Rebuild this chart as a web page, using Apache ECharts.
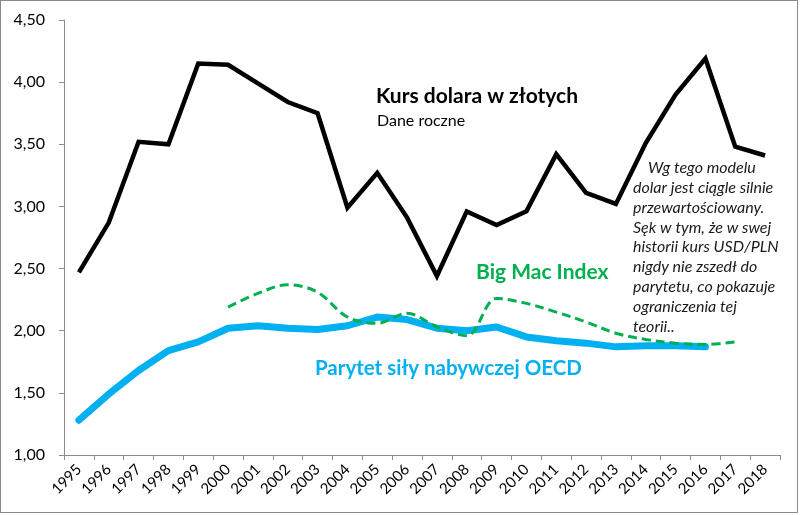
<!DOCTYPE html>
<html>
<head>
<meta charset="utf-8">
<script src="https://cdn.jsdelivr.net/npm/echarts@6/dist/echarts.min.js"></script>
<style>
html,body{margin:0;padding:0;background:#fff;}
#c{width:798px;height:513px;box-sizing:border-box;border:1px solid #8a8a8a;}
</style>
</head>
<body>
<div id="c"></div>
<script>
const years = ['1995','1996','1997','1998','1999','2000','2001','2002','2003','2004','2005','2006','2007','2008','2009','2010','2011','2012','2013','2014','2015','2016','2017','2018'];
const kursDolara = [2.47,2.87,3.52,3.50,4.15,4.14,3.99,3.84,3.75,2.99,3.27,2.91,2.44,2.96,2.85,2.96,3.42,3.11,3.02,3.51,3.90,4.19,3.48,3.41];
const parytetOECD = [1.28,1.49,1.68,1.84,1.91,2.02,2.04,2.02,2.01,2.04,2.11,2.09,2.02,2.00,2.03,1.95,1.92,1.90,1.87,1.88,1.88,1.87,null,null];
const bigMacIndex = [null,null,null,null,null,2.19,2.30,2.37,2.31,2.11,2.06,2.14,2.03,1.96,2.26,2.22,2.15,2.07,1.98,1.93,1.90,1.89,1.91,null];
const titleText = 'Kurs dolara w złotych';
const subtitleText = 'Dane roczne';
const bigMacLabel = 'Big Mac Index';
const oecdLabel = 'Parytet siły nabywczej OECD';
const noteLines = ['Wg tego modelu','dolar jest ciągle silnie','przewartościowany.','Sęk w tym, że w swej','historii kurs USD/PLN','nigdy nie zszedł do','parytetu, co pokazuje','ograniczenia tej','teorii..'];

const FONT = 'Lato, "Open Sans", sans-serif';
const chart = echarts.init(document.getElementById('c'), null, {renderer:'canvas'});

const graphics = [
  {type:'text', left:375, top:85, style:{text:titleText, font:'bold 21px '+FONT, fill:'#000'}},
  {type:'text', left:376, top:112, style:{text:subtitleText, font:'16px '+FONT, fill:'#000'}},
  {type:'text', left:475, top:261, style:{text:bigMacLabel, font:'bold 21px '+FONT, fill:'#00B050'}},
  {type:'text', left:314, top:357, style:{text:oecdLabel, font:'bold 20.5px '+FONT, fill:'#00B0F0'}}
];
noteLines.forEach((t,i)=>{
  graphics.push({type:'text', left: i===0 ? 647 : 632, top: 159 + i*19.8,
    style:{text:t, font:'italic 16px '+FONT, fill:'#1a1a1a'}});
});

chart.setOption({
  animation:false,
  grid:{left:63, right:17, top:19, bottom:57, containLabel:false},
  xAxis:{
    type:'category', data:years, boundaryGap:true,
    axisLine:{lineStyle:{color:'#8c8c8c', width:1}},
    axisTick:{show:true, alignWithLabel:false, length:5, lineStyle:{color:'#8c8c8c'}},
    axisLabel:{rotate:45, interval:0, color:'#000', fontSize:15, fontFamily:FONT, margin:12}
  },
  yAxis:{
    type:'value', min:1, max:4.5, interval:0.5,
    axisLine:{show:true, lineStyle:{color:'#8c8c8c', width:1}},
    axisTick:{show:true, length:5, lineStyle:{color:'#8c8c8c'}},
    splitLine:{show:false},
    axisLabel:{color:'#000', fontSize:16, fontFamily:FONT, margin:19,
      formatter:v=>v.toFixed(2).replace('.',',')}
  },
  series:[
    {name:'Kurs', type:'line', data:kursDolara, symbol:'none',
     lineStyle:{color:'#000', width:4.5, join:'miter'}, z:3},
    {name:'OECD', type:'line', data:parytetOECD, symbol:'none',
     lineStyle:{color:'#00B0F0', width:7, cap:'round', join:'round'}, z:2},
    {name:'BigMac', type:'line', data:bigMacIndex, symbol:'none', smooth:0.35,
     lineStyle:{color:'#00B050', width:3, type:[9,5]}, z:4}
  ],
  graphic:graphics
});
</script>
</body>
</html>
